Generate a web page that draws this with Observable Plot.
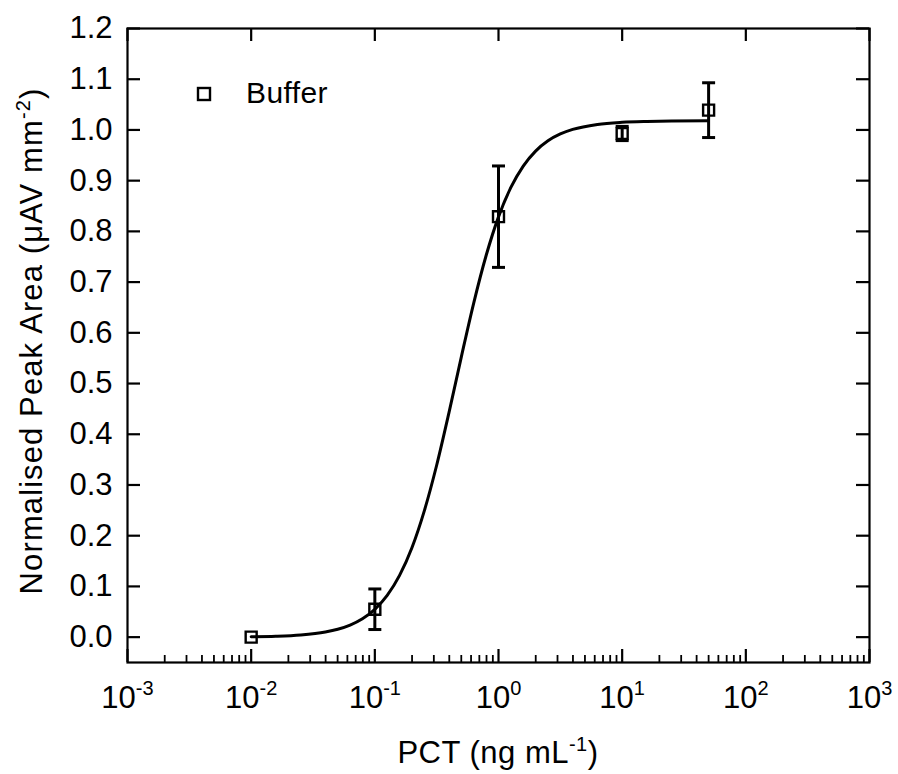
<!DOCTYPE html>
<html>
<head>
<meta charset="utf-8">
<script src="https://cdn.jsdelivr.net/npm/d3@7"></script>
<script src="https://cdn.jsdelivr.net/npm/@observablehq/plot@0.6"></script>
<style>
  html, body { margin: 0; padding: 0; background: #fff; }
  #chart svg { display: block; }
</style>
</head>
<body>
<div id="chart"></div>
<script>
// ---- data ----
const seriesName = "Buffer";
const concentrations = [0.01, 0.1, 1, 10, 50];          // PCT (ng mL-1)
const peakArea = [0.0, 0.055, 0.829, 0.993, 1.039];      // normalised peak area
const peakErr = [0.0, 0.040, 0.100, 0.014, 0.054];       // error bar half-length

// fitted curve
const fitX = [0.01, 0.0158, 0.0251, 0.0398, 0.0501, 0.0631, 0.0794, 0.1, 0.1259, 0.1585,
              0.1995, 0.2512, 0.3162, 0.3981, 0.5012, 0.631, 0.7943, 1, 1.259, 1.585,
              1.995, 2.512, 3.162, 3.981, 6.31, 10, 15.85, 25.12, 50];
const fitY = [0.0008, 0.0018, 0.0043, 0.0101, 0.0155, 0.0238, 0.0362, 0.0549, 0.0823, 0.1217,
              0.1762, 0.2489, 0.3389, 0.4431, 0.5532, 0.6592, 0.7524, 0.8286, 0.8866, 0.9288,
              0.9583, 0.9786, 0.9921, 1.0011, 1.0109, 1.0150, 1.0167, 1.0175, 1.0179];

const xMajor = [1e-3, 1e-2, 1e-1, 1e0, 1e1, 1e2, 1e3];
const xExponents = ["-3", "-2", "-1", "0", "1", "2", "3"];
const xMinor = xMajor.slice(0, -1).flatMap(d => [2,3,4,5,6,7,8,9].map(m => d * m));
const yTicks = [0, 0.1, 0.2, 0.3, 0.4, 0.5, 0.6, 0.7, 0.8, 0.9, 1.0, 1.1, 1.2];

const points = concentrations.map((x, i) => ({x, y: peakArea[i], lo: peakArea[i] - peakErr[i], hi: peakArea[i] + peakErr[i]}));
const fit = fitX.map((x, i) => ({x, y: fitY[i]}));

// ---- layout ----
const W = 898, H = 774;
const mL = 127, mR = 29, mT = 28, mB = 112;
const innerW = W - mL - mR, innerH = H - mT - mB;
const major = 13, minor = 7;
const font = "'Liberation Sans', Arial, Helvetica, sans-serif";

const capSymbol = { draw(ctx, size) { const w = 6.5; ctx.moveTo(-w, 0); ctx.lineTo(w, 0); } };
const expOf = d => xExponents[xMajor.indexOf(d)];

const chart = Plot.plot({
  width: W, height: H,
  marginLeft: mL, marginRight: mR, marginTop: mT, marginBottom: mB,
  style: { fontFamily: font, fontSize: "31px", color: "#000", background: "#fff" },
  x: { type: "log", domain: [1e-3, 1e3] },
  y: { domain: [-0.05, 1.2] },
  marks: [
    // tick labels only
    Plot.axisX(xMajor, { tickSize: 0, tickPadding: 23, fontSize: 31, tickFormat: d => "10|" + expOf(d), label: null }),
    Plot.axisY(yTicks, { tickSize: 0, tickPadding: 15, fontSize: 31, tickFormat: d => d.toFixed(1), label: null }),
    // inward ticks on all sides
    Plot.ruleX(xMajor, { x: d => d, insetTop: innerH - major, strokeWidth: 2.2 }),
    Plot.ruleX(xMinor, { x: d => d, insetTop: innerH - minor, strokeWidth: 1.8 }),
    Plot.ruleX(xMajor, { x: d => d, insetBottom: innerH - major, strokeWidth: 2.2 }),
    Plot.ruleY(yTicks, { y: d => d, insetRight: innerW - major, strokeWidth: 2.2 }),
    Plot.ruleY(yTicks, { y: d => d, insetLeft: innerW - major, strokeWidth: 2.2 }),
    Plot.frame({ stroke: "#000", strokeWidth: 2.2 }),
    // fit curve
    Plot.line(fit, { x: "x", y: "y", stroke: "#000", strokeWidth: 3, curve: "monotone-x" }),
    // error bars
    Plot.ruleX(points.filter(d => d.hi > d.lo), { x: "x", y1: "lo", y2: "hi", stroke: "#000", strokeWidth: 3 }),
    Plot.dot(points.filter(d => d.hi > d.lo), { x: "x", y: "lo", symbol: capSymbol, stroke: "#000", strokeWidth: 3, r: 5 }),
    Plot.dot(points.filter(d => d.hi > d.lo), { x: "x", y: "hi", symbol: capSymbol, stroke: "#000", strokeWidth: 3, r: 5 }),
    // markers
    Plot.dot(points, { x: "x", y: "y", symbol: "square", r: 6.2, fill: "none", stroke: "#000", strokeWidth: 2.4 })
  ]
});

document.getElementById("chart").appendChild(chart);

// superscripts in x tick labels
const svg = d3.select(chart);
svg.selectAll('g[aria-label="x-axis tick label"] text').each(function() {
  const t = d3.select(this);
  const [base, exp] = t.text().split("|");
  t.text(null);
  t.append("tspan").text(base);
  t.append("tspan").attr("font-size", 20).attr("dy", "-0.62em").text(exp);
});

// axis titles and legend
function addText(x, y, parts, opts = {}) {
  const t = svg.append("text")
    .attr("x", x).attr("y", y)
    .attr("font-family", font).attr("font-size", opts.size || 31).attr("fill", "#000")
    .attr("letter-spacing", opts.spacing || 0)
    .attr("text-anchor", opts.anchor || "middle");
  if (opts.rotate) t.attr("transform", `rotate(-90 ${x} ${y})`);
  parts.forEach(([s, sup]) => {
    const sp = t.append("tspan").text(s);
    if (sup === "sup") sp.attr("font-size", 20).attr("dy", "-0.62em");
    if (sup === "after") sp.attr("dy", "0.4em");
  });
  return t;
}
addText(mL + innerW / 2, 763, [["PCT (ng mL"], ["-1", "sup"], [")", "after"]], { spacing: 0.5 });
addText(42, 341, [["Normalised Peak Area (μAV mm"], ["-2", "sup"], [")", "after"]], { rotate: true, spacing: 1.1 });

// legend
const legendX = 204, legendY = 94;
svg.append("rect").attr("x", legendX - 6).attr("y", legendY - 6).attr("width", 12).attr("height", 12)
  .attr("fill", "none").attr("stroke", "#000").attr("stroke-width", 2.4);
addText(246, 103, [[seriesName]], { anchor: "start", size: 30, spacing: 0.4 });
</script>
</body>
</html>
